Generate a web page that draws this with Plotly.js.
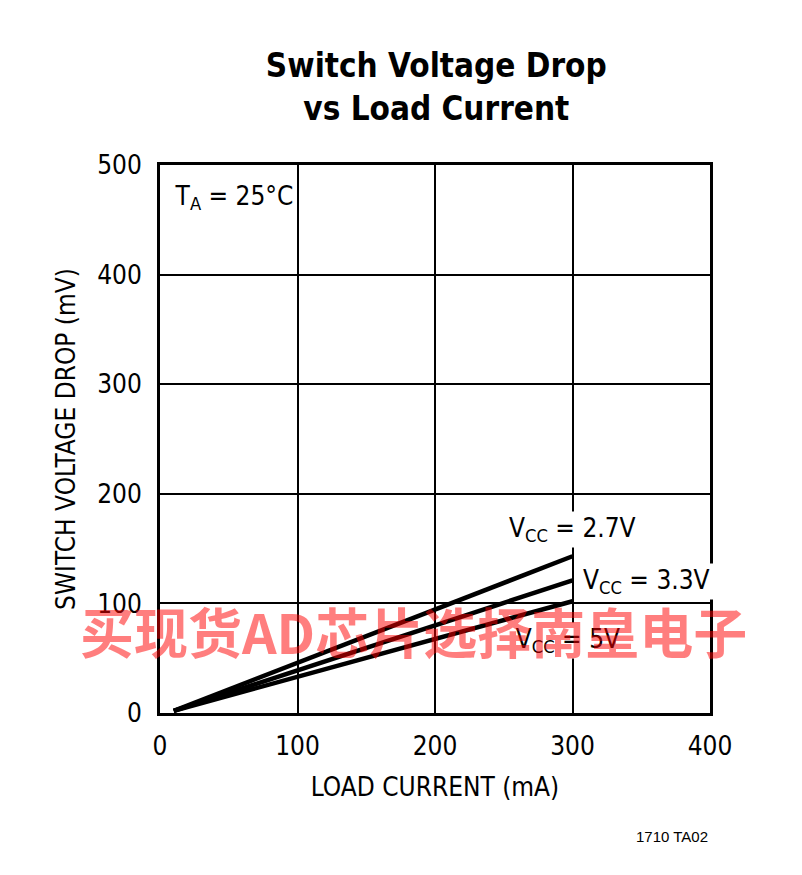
<!DOCTYPE html>
<html><head><meta charset="utf-8">
<script src="https://cdn.plot.ly/plotly-3.0.1.min.js"></script>
<style>html,body{margin:0;padding:0;background:#fff}#c{width:802px;height:875px}
#c text{font-stretch:condensed !important}</style>
</head><body><div id="c"></div>
<script>
// Data
const loadCurrent = [10, 300];            // mA
const vcc27 = [2, 143];                   // mV, VCC = 2.7V
const vcc33 = [2, 121];                   // mV, VCC = 3.3V
const vcc5  = [2, 102];                   // mV, VCC = 5V
const xTicks = [0, 100, 200, 300, 400];
const yTicks = [0, 100, 200, 300, 400, 500];

const F = '"Liberation Sans Narrow", "DejaVu Sans", sans-serif';
const lineStyle = {color: '#000', width: 4.5};
const traces = [
  {x: loadCurrent, y: vcc27, mode: 'lines', line: lineStyle, hoverinfo: 'none'},
  {x: loadCurrent, y: vcc33, mode: 'lines', line: lineStyle, hoverinfo: 'none'},
  {x: loadCurrent, y: vcc5,  mode: 'lines', line: lineStyle, hoverinfo: 'none'}
];

const axisCommon = {
  showgrid: true, gridcolor: '#000', gridwidth: 2,
  showline: true, linecolor: '#000', linewidth: 3, mirror: true,
  zeroline: false, ticks: '', tickmode: 'array',
  tickfont: {family: F, size: 26, color: '#000'}
};

const layout = {
  width: 802, height: 875,
  margin: {l: 160, r: 92, t: 165, b: 162},
  paper_bgcolor: '#fff', plot_bgcolor: '#fff',
  showlegend: false,
  title: {text: '<b>Switch Voltage Drop<br>vs Load Current</b>', font: {family: F, size: 33, color: '#000'},
          x: 0.544, xanchor: 'center', y: 0.912, yanchor: 'top'},
  xaxis: Object.assign({}, axisCommon, {range: [0, 400], tickvals: xTicks, ticktext: xTicks.map(String),
    ticklabelstandoff: 8,
    title: {text: 'LOAD CURRENT (mA)', font: {family: F, size: 26, color: '#000'}, standoff: 18}}),
  yaxis: Object.assign({}, axisCommon, {range: [0, 500], tickvals: yTicks, ticktext: yTicks.map(String),
    ticklabelstandoff: 10,
    title: {text: 'SWITCH VOLTAGE DROP (mV)', font: {family: F, size: 26, color: '#000'}, standoff: 10}}),
  annotations: [
    {xref: 'paper', yref: 'paper', x: 0.01, y: 0.975, xanchor: 'left', yanchor: 'top', showarrow: false,
     text: 'T<sub>A</sub> = 25°C', font: {family: F, size: 26, color: '#000'}},
    {xref: 'x', yref: 'y', x: 300, y: 167, xanchor: 'center', yanchor: 'middle', showarrow: false,
     text: 'V<sub>CC</sub> = 2.7V', font: {family: F, size: 26, color: '#000'}, bgcolor: '#fff'},
    {xref: 'x', yref: 'y', x: 301, y: 120, xanchor: 'left', yanchor: 'middle', showarrow: false,
     text: 'V<sub>CC</sub> = 3.3V', font: {family: F, size: 26, color: '#000'}, bgcolor: '#fff'},
    {xref: 'x', yref: 'y', x: 297, y: 66, xanchor: 'center', yanchor: 'middle', showarrow: false,
     text: 'V<sub>CC</sub> = 5V', font: {family: F, size: 26, color: '#000'}, bgcolor: '#fff'},
    {xref: 'paper', yref: 'paper', x: 1.0, y: -0.225, xanchor: 'right', yanchor: 'middle', showarrow: false,
     text: '1710 TA02', font: {family: 'Liberation Sans, Arial, sans-serif', size: 15, color: '#000'}},
    {xref: 'paper', yref: 'paper', x: 0.46, y: 0.15, xanchor: 'center', yanchor: 'middle', showarrow: false,
     text: '<b>买现货AD芯片选择南皇电子</b>', opacity: 0.5,
     font: {family: '"Noto Sans CJK SC", sans-serif', size: 54, color: '#ff0000'}}
  ]
};
Plotly.newPlot('c', traces, layout, {staticPlot: true, displayModeBar: false});
</script></body></html>
